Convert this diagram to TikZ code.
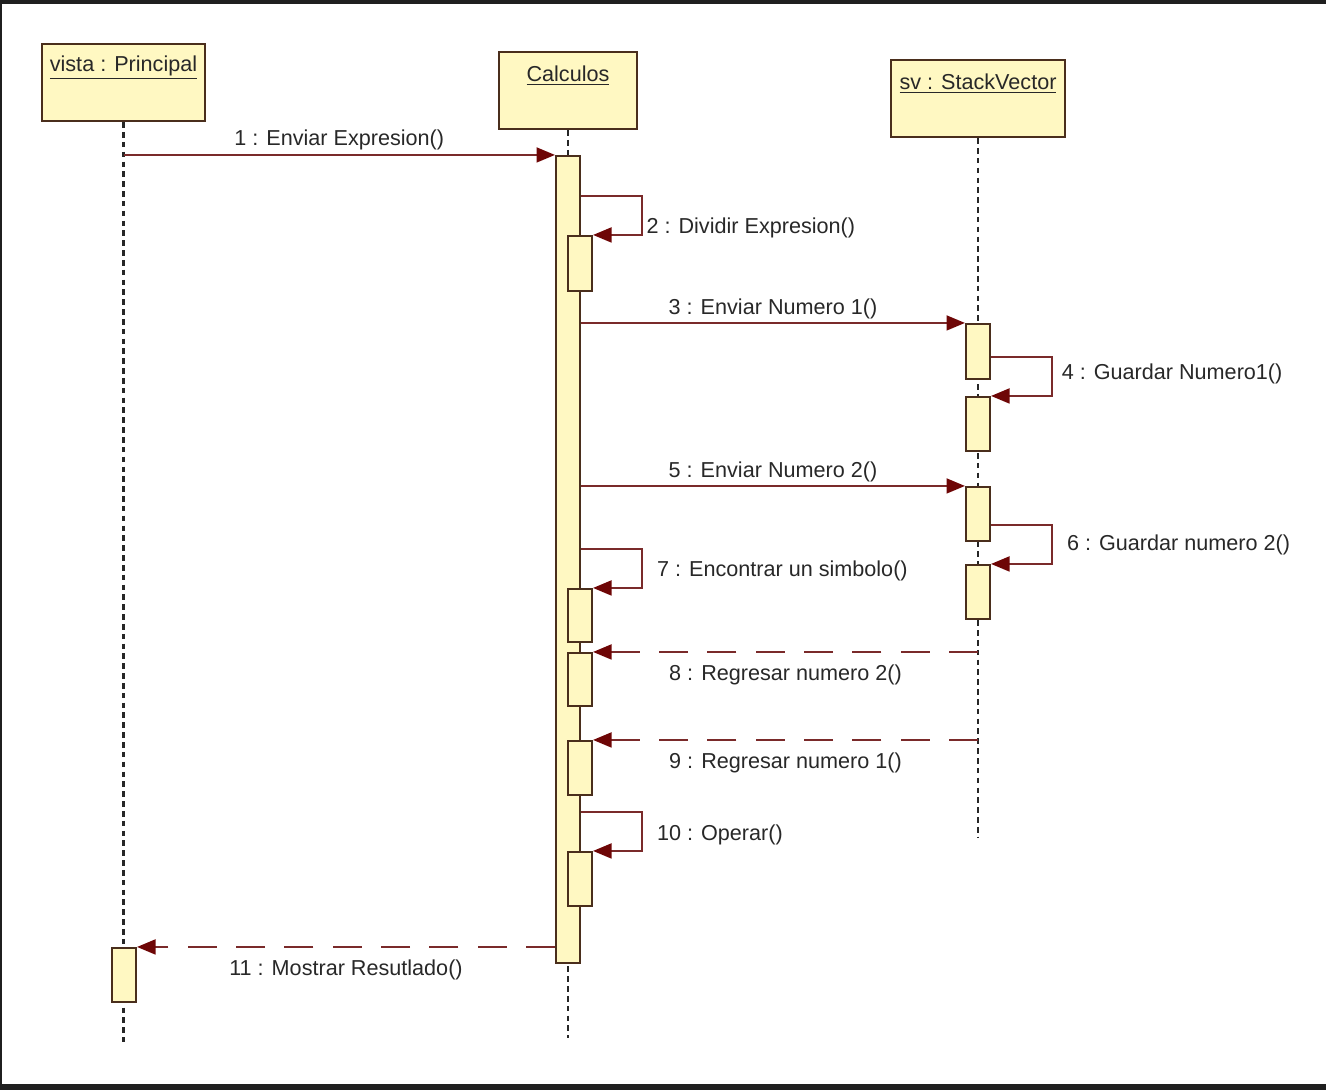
\documentclass[tikz,border=0pt]{standalone}
\usepackage{fontspec}
\setmainfont{Liberation Sans}
\usetikzlibrary{calc,positioning,fit,arrows.meta}
\definecolor{lifefill}{RGB}{255,248,194}
\definecolor{lifedraw}{RGB}{74,46,28}
\definecolor{msgline}{RGB}{122,42,42}
\definecolor{msgtip}{RGB}{110,6,6}
\definecolor{txt}{RGB}{40,40,40}
\tikzset{
  head/.style = {draw=lifedraw, fill=lifefill, line width=1.3pt, inner sep=0pt},
  act/.style  = {draw=lifedraw, fill=lifefill, line width=1.2pt, inner sep=0pt},
  life/.style = {draw=black!85, line width=1.2pt, dash pattern=on 3.2pt off 2.4pt},
  msg/.style  = {draw=msgline, line width=1.1pt, -{Triangle[length=10.5pt, width=8.5pt, color=msgtip]}},
  ret/.style  = {msg, dash pattern=on 16.5pt off 11pt},
  lbl/.style  = {font=\fontsize{12.3pt}{14pt}\selectfont, text=txt, inner sep=2pt},
}

\begin{document}
\begin{tikzpicture}[x=0.02cm, y=-0.02cm]
  \useasboundingbox (0,0) rectangle (1326,1090);
  \fill[black!88] (0,0) rectangle (1326,4);
  \fill[black!88] (0,0) rectangle (2,1090);
  \fill[black!88] (0,1084) rectangle (1326,1090);
  % heads
  \node[head, fit={(42,44) (205,121)}] (vista) {};
  \node[head, fit={(499,52) (637,129)}] (calc) {};
  \node[head, fit={(891,60) (1065,137)}] (sv) {};
  \node[lbl] (vistaname) at ($(vista.north)+(0,25)$) {\underline{vista : Principal}};
  \node[lbl] (calcname) at ($(calc.north)+(0,25)$) {\underline{Calculos}};
  \node[lbl] (svname) at ($(sv.north)+(0,25)$) {\underline{sv : StackVector}};
  % lifelines
  \draw[life] (vista.south) -- (vista.south |- 0,1042);
  \draw[life] (calc.south) -- (calc.south |- 0,1038);
  \draw[life] (sv.south) -- (sv.south |- 0,838);
  % activations
  \node[act, fit={(112,948) (136,1002)}] (vistaA) {};
  \node[act, fit={(556,156) (580,963)}] (calcA) {};
  \node[act, fit={(568,236) (592,291)}] (calc2) {};
  \node[act, fit={(568,589) (592,642)}] (calc7) {};
  \node[act, fit={(568,653) (592,706)}] (calc8) {};
  \node[act, fit={(568,741) (592,795)}] (calc9) {};
  \node[act, fit={(568,852) (592,906)}] (calc10) {};
  \node[act, fit={(966,324) (990,379)}] (sv3) {};
  \node[act, fit={(966,397) (990,451)}] (sv4) {};
  \node[act, fit={(966,487) (990,541)}] (sv5) {};
  \node[act, fit={(966,565) (990,619)}] (sv6) {};
  % messages
  \draw[msg] (vista.south |- calcA.north) -- (calcA.north west) node[lbl, midway, above=0pt] {1 : Enviar Expresion()};
  \draw[msg] (calcA.east |- 0,196) -- ++(61,0) |- (calc2.north east) node[lbl, pos=0.25, right, yshift=-7pt] {2 : Dividir Expresion()};
  \draw[msg] (calcA.east |- sv3.north) -- (sv3.north west) node[lbl, midway, above=0pt] {3 : Enviar Numero 1()};
  \draw[msg] (sv3.east |- 0,357) -- ++(61,0) |- (sv4.north east) node[lbl, pos=0.25, right=3pt, yshift=1.5pt] {4 : Guardar Numero1()};
  \draw[msg] (calcA.east |- sv5.north) -- (sv5.north west) node[lbl, midway, above=0pt] {5 : Enviar Numero 2()};
  \draw[msg] (sv5.east |- 0,525) -- ++(61,0) |- (sv6.north east) node[lbl, pos=0.25, right=6pt] {6 : Guardar numero 2()};
  \draw[msg] (calcA.east |- 0,549) -- ++(61,0) |- (calc7.north east) node[lbl, pos=0.25, right=6pt, yshift=-1.5pt] {7 : Encontrar un simbolo()};
  \draw[ret] (sv.south |- calc8.north) -- (calc8.north east) node[lbl, midway, below=5pt] {8 : Regresar numero 2()};
  \draw[ret] (sv.south |- calc9.north) -- (calc9.north east) node[lbl, midway, below=5pt] {9 : Regresar numero 1()};
  \draw[msg] (calcA.east |- 0,812) -- ++(61,0) |- (calc10.north east) node[lbl, pos=0.25, right=6pt, yshift=-2pt] {10 : Operar()};
  \draw[ret] (calcA.west |- vistaA.north) -- (vistaA.north east) node[lbl, midway, below=5pt] {11 : Mostrar Resutlado()};
\end{tikzpicture}
\end{document}
